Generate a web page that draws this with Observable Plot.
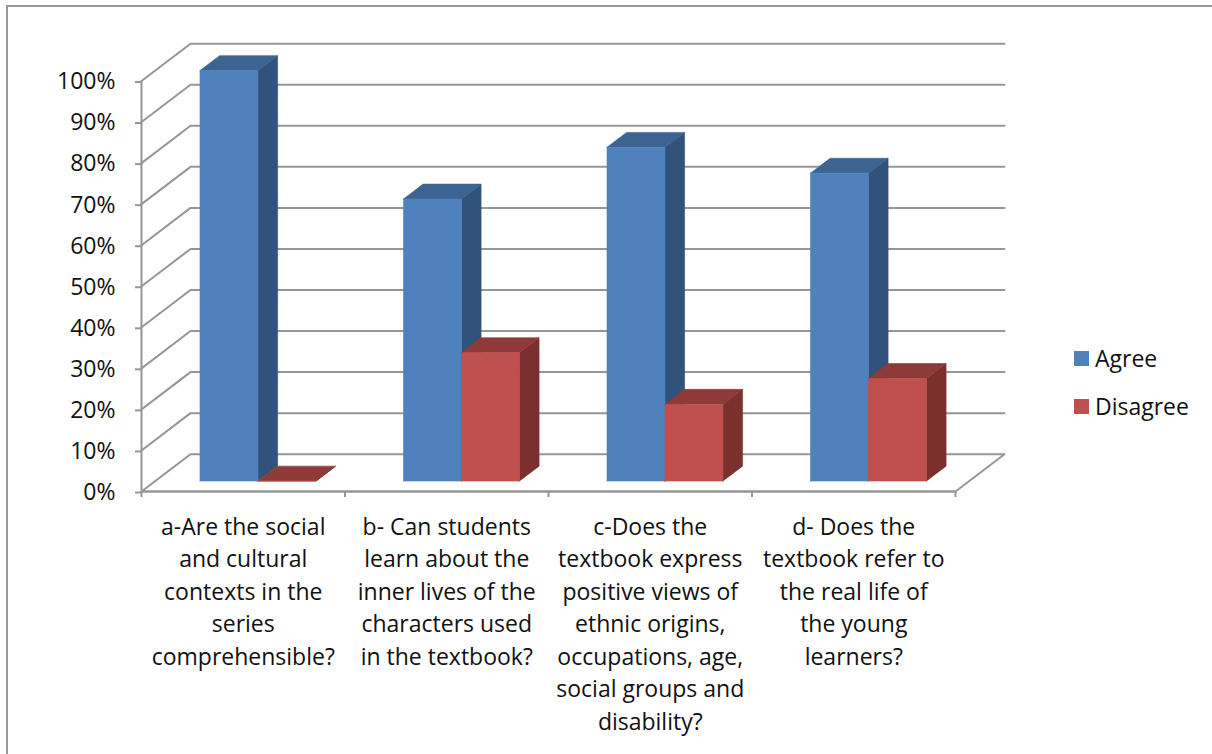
<!DOCTYPE html>
<html>
<head>
<meta charset="utf-8">
<script src="https://cdn.jsdelivr.net/npm/d3@7"></script>
<script src="https://cdn.jsdelivr.net/npm/@observablehq/plot@0.6"></script>
<style>
html,body{margin:0;padding:0;background:#fff;overflow:hidden}
#wrap{position:relative;width:1212px;height:754px;overflow:hidden;font-family:"Open Sans",sans-serif;color:#111}
#frame{position:absolute;left:6px;top:5px;width:1400px;height:1000px;border:2px solid #999;box-sizing:border-box}
#chart{position:absolute;left:0;top:0}
#chart svg{display:block;background:transparent}
#legend{position:absolute;left:0;top:0;width:0;height:0}
.li{position:absolute;left:1074px;white-space:nowrap;font-size:23px;line-height:24px;display:flex;align-items:center}
.sw{width:15px;height:15px;margin-right:6px;flex:none}
</style>
</head>
<body>
<div id="wrap"><div id="frame"></div><div id="chart"></div><div id="legend"></div></div>
<script>
const categories = [
  "a-Are the social\nand cultural\ncontexts in the\nseries\ncomprehensible?",
  "b- Can students\nlearn about the\ninner lives of the\ncharacters used\nin the textbook?",
  "c-Does the\ntextbook express\npositive views of\nethnic origins,\noccupations, age,\nsocial groups and\ndisability?",
  "d- Does the\ntextbook refer to\nthe real life of\nthe young\nlearners?"
];
const agree = [100, 68.7, 81.3, 75];
const disagree = [0, 31.3, 18.7, 25];
const yTicks = [0,10,20,30,40,50,60,70,80,90,100];
const xTicks = [0,1,2,3,4];
const seriesNames = ["Agree","Disagree"];
const blue = {front:"#4f81bd", side:"#31527a", top:"#3d6390"};
const red  = {front:"#c0504d", side:"#7c302e", top:"#8e3a38"};
const grid = "#969696";

// Oblique projection of the chart's depth axis, in data units
const shearX = 49/203.5, shearY = 37.3/4.105;
const P = (x, y, d) => ({x: x + d*shearX, y: y + d*shearY});

const barW = 0.285, gap = 0.22, d0 = 0.28, d1 = 0.68;
const poly = (pts, fill) => Plot.line([...pts, pts[0]], {x:"x", y:"y", fill, stroke:fill, strokeWidth:0.6, curve:"linear"});
function bar(x0, v, c){
  const x1 = x0 + barW;
  return [
    poly([P(x1,0,d0),P(x1,0,d1),P(x1,v,d1),P(x1,v,d0)], c.side),
    poly([P(x0,v,d0),P(x1,v,d0),P(x1,v,d1),P(x0,v,d1)], c.top),
    poly([P(x0,0,d0),P(x1,0,d0),P(x1,v,d0),P(x0,v,d0)], c.front)
  ];
}

const gridLines = yTicks.filter(t => t > 0).map(t =>
  Plot.line([P(0,t,0),P(0,t,1),P(4,t,1)], {x:"x", y:"y", stroke:grid, strokeWidth:2}));
const floor = Plot.line([P(0,0,0),P(0,0,1),P(4,0,1),P(4,0,0),P(0,0,0)], {x:"x", y:"y", stroke:grid, strokeWidth:2});

const bars = categories.flatMap((c,i) => [
  ...bar(i+gap, agree[i], blue),
  ...bar(i+gap+barW, disagree[i], red)
]);

const labelRows = categories.map((label,i) => ({label, x:i+0.5, y:0}));

const chart = Plot.plot({
  width:1212, height:754,
  marginLeft:141, marginRight:257, marginTop:80.5, marginBottom:263,
  style:{background:"transparent", overflow:"visible", fontFamily:"'Open Sans', sans-serif"},
  x:{domain:[0,4]},
  y:{domain:[0,100]},
  marks:[
    ...gridLines,
    floor,
    Plot.ruleX([0], {y1:0, y2:100, stroke:grid, strokeWidth:2}),
    Plot.ruleY([0], {x1:0, x2:4, stroke:grid, strokeWidth:2}),
    Plot.axisY(yTicks, {tickSize:6, tickPadding:20, stroke:grid, strokeWidth:2, fill:"#111", fontSize:23, dy:1,
      tickFormat:d=>d+"%", label:null}),
    Plot.axisX(xTicks, {tickSize:6, stroke:grid, strokeWidth:2, tickFormat:()=>"", label:null}),
    ...bars,
    Plot.text(labelRows, {x:"x", y:"y", text:"label", dy:20, lineAnchor:"top", lineHeight:1.413,
      textAnchor:"middle", fontSize:23, fill:"#111"})
  ]
});
document.getElementById("chart").appendChild(chart);

const legend = document.getElementById("legend");
seriesNames.forEach((n,i) => {
  const el = document.createElement("div");
  el.className = "li";
  el.style.top = (346 + i*48) + "px";
  const sw = document.createElement("span");
  sw.className = "sw";
  sw.style.background = [blue,red][i].front;
  el.appendChild(sw);
  el.appendChild(document.createTextNode(n));
  legend.appendChild(el);
});
</script>
</body>
</html>
